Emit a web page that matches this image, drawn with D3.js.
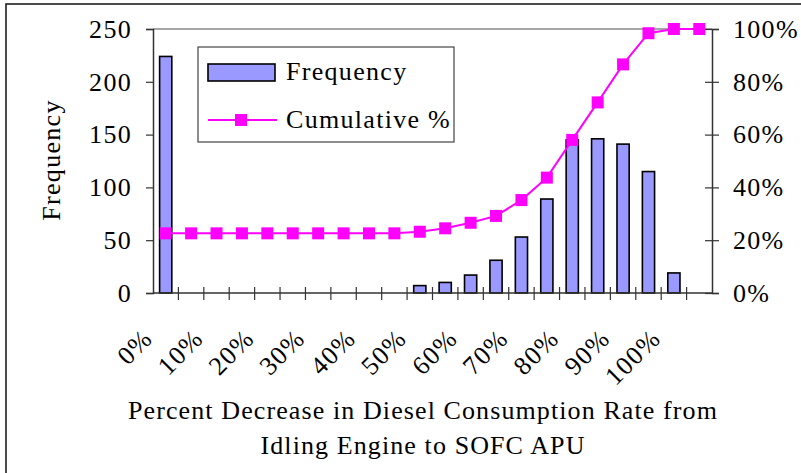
<!DOCTYPE html>
<html>
<head>
<meta charset="utf-8">
<script src="https://cdn.jsdelivr.net/npm/d3@7"></script>
<style>
  body { margin: 0; background: #fff; }
  text { font-family: "Liberation Serif", "Times New Roman", serif; fill: #000; letter-spacing: 1.3px; }
  text.title { letter-spacing: 1.1px; }
</style>
</head>
<body>
<svg id="chart"></svg>
<script>
// histogram bins (5% wide) plus the overflow bin
const categories = ["0%", "5%", "10%", "15%", "20%", "25%", "30%", "35%", "40%", "45%", "50%",
  "55%", "60%", "65%", "70%", "75%", "80%", "85%", "90%", "95%", "100%", "More"];
const frequency = [224, 0, 0, 0, 0, 0, 0, 0, 0, 0, 7, 10, 17, 31, 53, 89, 145, 146, 141, 115, 19, 0];
const cumulativePct = [22.6, 22.6, 22.6, 22.6, 22.6, 22.6, 22.6, 22.6, 22.6, 22.6,
  23.2, 24.5, 26.6, 29.2, 35.2, 43.7, 58.0, 72.2, 86.6, 98.4, 100, 100];
const tickLabels = ["0%", "10%", "20%", "30%", "40%", "50%", "60%", "70%", "80%", "90%", "100%"];
const freqTicks = [0, 50, 100, 150, 200, 250];
const pctTicks = [0, 20, 40, 60, 80, 100];

const width = 801, height = 473;
const plotL = 153, plotR = 712, plotT = 29, plotB = 293;
const fontSize = 26;

const svg = d3.select("#chart")
  .attr("width", width)
  .attr("height", height);

// outer frame
svg.append("rect")
  .attr("x", 6).attr("y", 4)
  .attr("width", 820).attr("height", 500)
  .attr("fill", "none").attr("stroke", "#111").attr("stroke-width", 1.5);

const x = d3.scaleBand().domain(categories).range([plotL, plotR]).padding(0);
const y = d3.scaleLinear().domain([0, 250]).range([plotB, plotT]);
const y2 = d3.scaleLinear().domain([0, 100]).range([plotB, plotT]);

// top border of plot area
svg.append("line")
  .attr("x1", plotL).attr("x2", plotR).attr("y1", plotT).attr("y2", plotT)
  .attr("stroke", "#888").attr("stroke-width", 1.5);

// bars
const barW = x.bandwidth() * 0.48;
svg.append("g").selectAll("rect")
  .data(frequency)
  .join("rect")
  .attr("x", (d, i) => x(categories[i]) + (x.bandwidth() - barW) / 2)
  .attr("y", d => y(d))
  .attr("width", barW)
  .attr("height", d => y(0) - y(d))
  .attr("fill", d => d > 0 ? "#9999ff" : "none")
  .attr("stroke", d => d > 0 ? "#000" : "none")
  .attr("stroke-width", 1.6);

// left axis
const gl = svg.append("g")
  .attr("transform", `translate(${plotL},0)`)
  .call(d3.axisLeft(y).tickValues(freqTicks).tickSize(7).tickPadding(14));
gl.select(".domain").attr("stroke", "#333").attr("stroke-width", 1.5);
gl.selectAll(".tick line").attr("stroke", "#333").attr("stroke-width", 1.2);
gl.selectAll(".tick text").style("font-size", fontSize + "px")
  .style("font-family", "Liberation Serif").attr("fill", "#000");

// right axis
const gr = svg.append("g")
  .attr("transform", `translate(${plotR},0)`)
  .call(d3.axisRight(y2).tickValues(pctTicks).tickFormat(d => d + "%").tickSize(7).tickPadding(14));
gr.select(".domain").attr("stroke", "#333").attr("stroke-width", 1.5);
gr.selectAll(".tick line").attr("x1", -7).attr("stroke", "#333").attr("stroke-width", 1.2);
gr.selectAll(".tick text").style("font-size", fontSize + "px")
  .style("font-family", "Liberation Serif").attr("fill", "#000");

// bottom axis with ticks at bin boundaries
svg.append("line")
  .attr("x1", plotL).attr("x2", plotR).attr("y1", plotB).attr("y2", plotB)
  .attr("stroke", "#333").attr("stroke-width", 1.5);
svg.append("g").selectAll("line")
  .data(categories.slice(1))
  .join("line")
  .attr("x1", d => x(d)).attr("x2", d => x(d))
  .attr("y1", plotB - 6).attr("y2", plotB + 7)
  .attr("stroke", "#333").attr("stroke-width", 1.2);

// rotated category labels
svg.append("g").selectAll("text")
  .data(tickLabels)
  .join("text")
  .attr("transform", d => `translate(${x(d) + 1},${plotB + 47}) rotate(-45)`)
  .attr("text-anchor", "end")
  .style("font-size", fontSize + "px")
  .text(d => d);

// cumulative line
const cx = (d, i) => x(categories[i]) + x.bandwidth() / 2;
svg.append("path")
  .datum(cumulativePct)
  .attr("fill", "none")
  .attr("stroke", "#ff00ff")
  .attr("stroke-width", 2)
  .attr("d", d3.line().x(cx).y(d => y2(d)));

const mk = 12;
svg.append("g").selectAll("rect")
  .data(cumulativePct)
  .join("rect")
  .attr("x", (d, i) => cx(d, i) - mk / 2)
  .attr("y", d => y2(d) - mk / 2)
  .attr("width", mk).attr("height", mk)
  .attr("fill", "#ff00ff");

// legend
const lg = svg.append("g");
lg.append("rect")
  .attr("x", 198).attr("y", 47).attr("width", 256).attr("height", 95)
  .attr("fill", "#fff").attr("stroke", "#444").attr("stroke-width", 1.2);
lg.append("rect")
  .attr("x", 208).attr("y", 64).attr("width", 67).attr("height", 17)
  .attr("fill", "#9999ff").attr("stroke", "#000").attr("stroke-width", 1.6);
lg.append("text").attr("x", 286).attr("y", 80)
  .style("font-size", fontSize + "px").text("Frequency");
lg.append("line")
  .attr("x1", 208).attr("x2", 277).attr("y1", 120).attr("y2", 120)
  .attr("stroke", "#ff00ff").attr("stroke-width", 2);
lg.append("rect")
  .attr("x", 241 - mk / 2).attr("y", 120 - mk / 2).attr("width", mk).attr("height", mk)
  .attr("fill", "#ff00ff");
lg.append("text").attr("x", 286).attr("y", 128)
  .style("font-size", fontSize + "px").text("Cumulative %");

// axis titles
svg.append("text")
  .attr("transform", `translate(60,160) rotate(-90)`)
  .attr("text-anchor", "middle")
  .style("font-size", fontSize + "px")
  .text("Frequency");

svg.append("text")
  .attr("class", "title")
  .attr("x", 423).attr("y", 419)
  .attr("text-anchor", "middle")
  .style("font-size", fontSize + "px")
  .text("Percent Decrease in Diesel Consumption Rate from");
svg.append("text")
  .attr("class", "title")
  .attr("x", 423).attr("y", 454)
  .attr("text-anchor", "middle")
  .style("font-size", fontSize + "px")
  .text("Idling Engine to SOFC APU");
</script>
</body>
</html>
